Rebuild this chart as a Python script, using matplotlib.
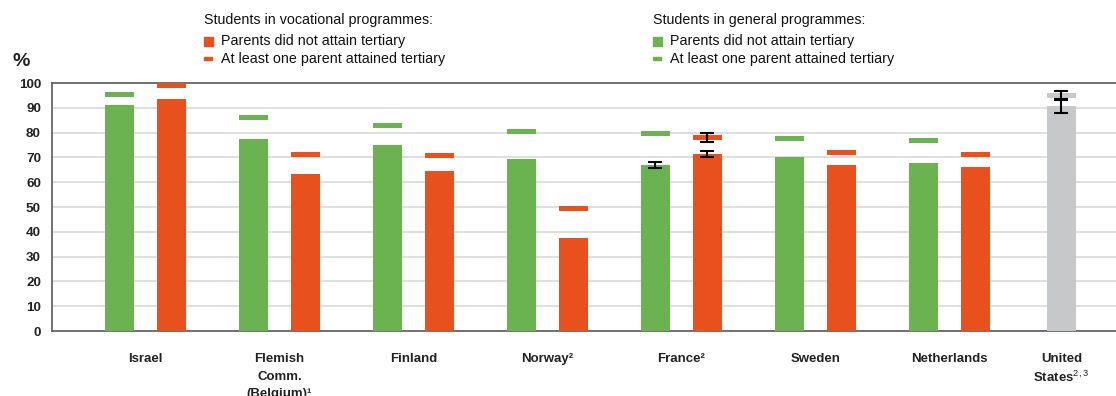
import numpy as np
import matplotlib.pyplot as plt
from matplotlib.ticker import FixedLocator

plt.rcParams['font.family'] = ['Liberation Sans', 'DejaVu Sans']
plt.rcParams['mathtext.fontset'] = 'custom'
plt.rcParams['mathtext.rm'] = 'Liberation Sans'
plt.rcParams['mathtext.bf'] = 'Liberation Sans:bold'

# ---------------- Data (% of students) ----------------
countries = ["Israel", "Flemish\nComm.\n(Belgium)\u00b9", "Finland", "Norway\u00b2",
             "France\u00b2", "Sweden", "Netherlands"]
gen_no_tertiary = [91.1, 77.4, 75.0, 69.4, 66.9, 70.2, 67.7]
gen_tertiary = [95.5, 86.1, 82.9, 80.4, 79.6, 77.6, 76.8]
voc_no_tertiary = [93.5, 63.3, 64.5, 37.5, 71.4, 66.9, 66.1]
voc_tertiary = [99.0, 71.2, 70.8, 49.4, 78.0, 72.0, 71.2]

# France standard errors
fr_gen_no_err = 1.2
fr_voc_no_err = 1.2
fr_voc_yes_err = 1.8

# United States (all programmes)
us_label = "United\nStates$^{2,3}$"
us_no_tertiary = 90.7
us_tertiary = 95.1
us_no_err = 2.6
us_yes_err = 1.7

GREEN = "#6BB250"
ORANGE = "#E8511E"
GREY = "#C7C8CA"

# ---------------- Layout ----------------
fig = plt.figure(figsize=(11.16, 3.96), dpi=100)
ax = fig.add_axes([52 / 1116, 1 - 331 / 396, 1 - 52 / 1116, 248 / 396])

x = np.arange(len(countries))
off = 0.194
w = 0.216
us_x = 6.836
mark_h = 2.0

ax.bar(x - off, gen_no_tertiary, w, color=GREEN, zorder=3)
ax.bar(x + off, voc_no_tertiary, w, color=ORANGE, zorder=3)
ax.bar(x - off, mark_h, w, bottom=np.array(gen_tertiary) - mark_h / 2,
       color=GREEN, zorder=3)
ax.bar(x + off, mark_h, w, bottom=np.array(voc_tertiary) - mark_h / 2,
       color=ORANGE, zorder=3)

ax.bar(us_x, us_no_tertiary, w, color=GREY, zorder=3)
ax.bar(us_x, mark_h, w, bottom=us_tertiary - mark_h / 2, color=GREY, zorder=3)

# error bars (France, United States)
ek = dict(fmt='none', ecolor='black', elinewidth=1.5, capsize=5,
          capthick=1.5, zorder=4)
fr = 4
ax.errorbar(fr - off, gen_no_tertiary[fr], yerr=fr_gen_no_err, **ek)
ax.errorbar(fr + off, voc_no_tertiary[fr], yerr=fr_voc_no_err, **ek)
ax.errorbar(fr + off, voc_tertiary[fr], yerr=fr_voc_yes_err, **ek)
ax.errorbar(us_x, us_no_tertiary, yerr=us_no_err, **ek)
ax.errorbar(us_x, us_tertiary, yerr=us_yes_err, **ek)

# ---------------- Axes styling ----------------
ax.set_xlim(-0.698, 7.243)
ax.set_ylim(0, 100)
ax.set_yticks(np.arange(0, 101, 10))
ax.yaxis.set_minor_locator(FixedLocator([0, 100]))
ax.tick_params(axis='y', which='major', length=0, pad=8, labelsize=9.7,
               colors='#222222')
ax.tick_params(axis='y', which='minor', length=5, width=1.2, color='#666666')
for lab in ax.get_yticklabels():
    lab.set_fontweight('bold')

ax.set_xticks(list(x) + [us_x])
xlabels = ax.set_xticklabels(countries + [us_label], fontsize=9.5,
                             fontweight='bold', linespacing=1.4,
                             color='#222222', va='top')
xlabels[1].set_linespacing(1.6)
ax.tick_params(axis='x', length=0, pad=16)

ax.grid(axis='y', color='#DCDCDC', linewidth=1.3, zorder=0)
ax.set_axisbelow(True)
for side in ['left', 'bottom', 'top']:
    ax.spines[side].set_color('#666666')
    ax.spines[side].set_linewidth(1.3)
ax.spines['right'].set_visible(False)

fig.text(12 / 1116, 1 - 62 / 396, "%", fontsize=14, fontweight='bold',
         va='center', ha='left', color='#222222')


# ---------------- Legend blocks ----------------
def legend_block(x0, title, color):
    fx = lambda px: px / 1116
    fy = lambda py: 1 - py / 396
    fig.text(fx(x0), fy(20), title, fontsize=10.3, va='center', ha='left',
             color='#111111')
    fig.patches.append(plt.Rectangle((fx(x0), fy(46)), 9 / 1116, 9 / 396,
                                     color=color, transform=fig.transFigure))
    fig.text(fx(x0 + 17), fy(41.5), "Parents did not attain tertiary",
             fontsize=10.3, va='center', ha='left', color='#111111')
    fig.patches.append(plt.Rectangle((fx(x0), fy(60)), 8 / 1116, 3 / 396,
                                     color=color, transform=fig.transFigure))
    fig.text(fx(x0 + 17), fy(58.5), "At least one parent attained tertiary",
             fontsize=10.3, va='center', ha='left', color='#111111')


legend_block(204, "Students in vocational programmes:", ORANGE)
legend_block(653, "Students in general programmes:", GREEN)

fig.savefig("out.png", dpi=100)
